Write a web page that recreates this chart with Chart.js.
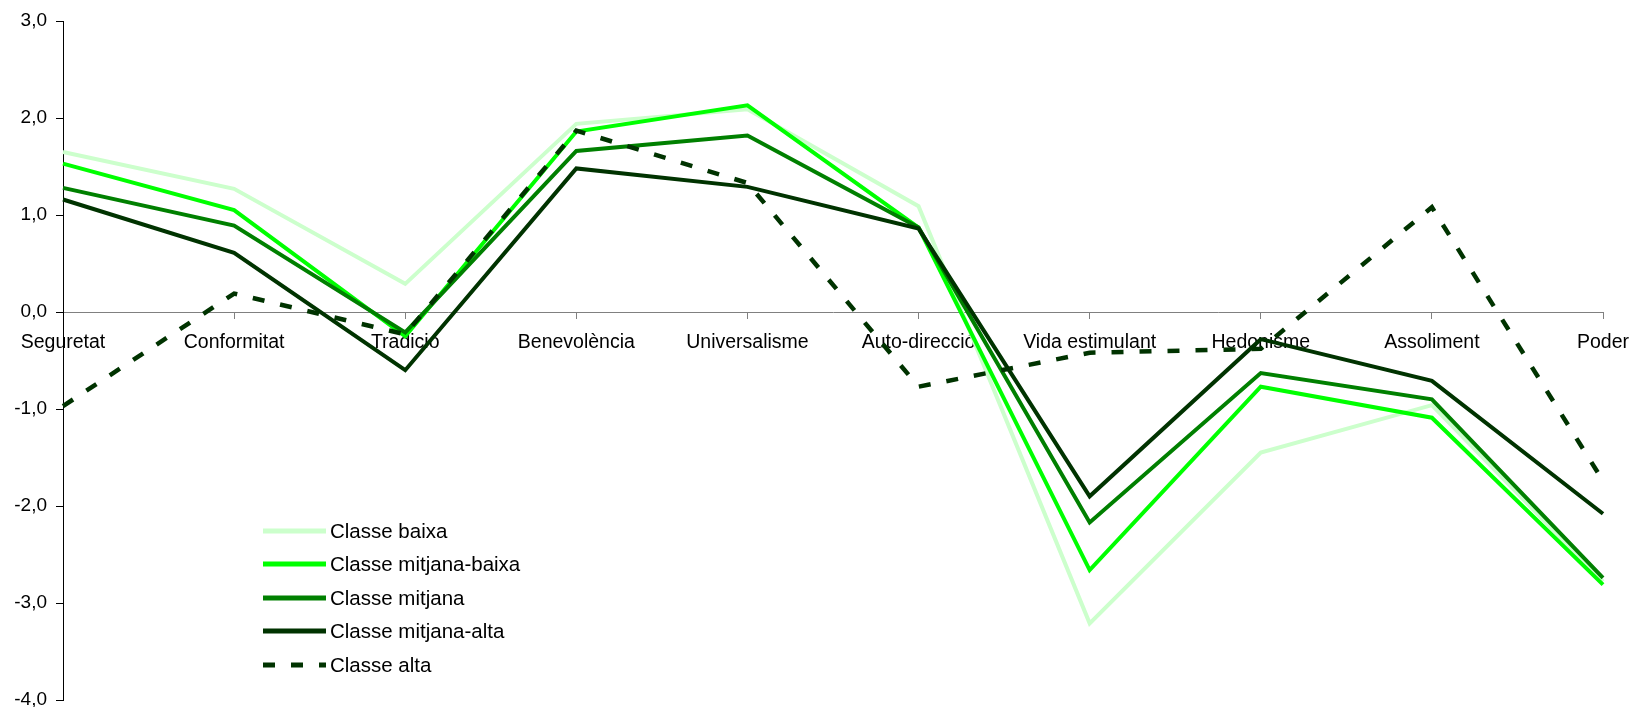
<!DOCTYPE html>
<html>
<head>
<meta charset="utf-8">
<script src="https://cdn.jsdelivr.net/npm/chart.js@4/dist/chart.umd.min.js"></script>
<style>
    body { margin: 0; background: #fff; }
    #wrap { position: relative; width: 1634px; height: 707px; }
    #legend { position: absolute; left: 263px; top: 514px; font-family: "Liberation Sans", Arial, sans-serif; font-size: 20.5px; color: #000; }
    #legend .row { display: flex; align-items: center; height: 33.5px; }
    #legend svg { width: 63px; height: 8px; margin-right: 4px; }
</style>
</head>
<body>
<div id="wrap">
    <canvas id="chart"></canvas>
    <div id="legend"></div>
</div>
<script>
// categories
const categories = ['Seguretat', 'Conformitat', 'Tradició', 'Benevolència', 'Universalisme',
    'Auto-direcció', 'Vida estimulant', 'Hedonisme', 'Assoliment', 'Poder'];

// series
const classeBaixa        = [1.65, 1.27, 0.29, 1.94, 2.09, 1.09, -3.21, -1.45, -0.96, -2.78];
const classeMitjanaBaixa = [1.53, 1.05, -0.25, 1.86, 2.13, 0.87, -2.66, -0.77, -1.09, -2.81];
const classeMitjana      = [1.28, 0.89, -0.21, 1.66, 1.82, 0.87, -2.17, -0.63, -0.90, -2.74];
const classeMitjanaAlta  = [1.16, 0.61, -0.60, 1.48, 1.29, 0.86, -1.90, -0.28, -0.71, -2.08];
const classeAlta         = [-0.97, 0.19, -0.23, 1.87, 1.33, -0.77, -0.42, -0.38, 1.08, -1.74];

const seriesNames = ['Classe baixa', 'Classe mitjana-baixa', 'Classe mitjana', 'Classe mitjana-alta', 'Classe alta'];

// y axis range
const yMin = -4;
const yMax = 3;

const family = '"Liberation Sans", Arial, sans-serif';

function makeSet(label, data, color, order, dash) {
    return {
        label: label,
        data: data,
        borderColor: color,
        backgroundColor: color,
        borderWidth: dash ? 4.5 : 4,
        borderDash: dash || [],
        pointRadius: 0,
        tension: 0,
        fill: false,
        order: order
    };
}

const datasets = [
    makeSet(seriesNames[0], classeBaixa, '#ccffcc', 5),
    makeSet(seriesNames[1], classeMitjanaBaixa, '#00ff00', 4),
    makeSet(seriesNames[2], classeMitjana, '#008000', 3),
    makeSet(seriesNames[3], classeMitjanaAlta, '#003300', 2),
    makeSet(seriesNames[4], classeAlta, '#003300', 1, [12, 16])
];

const ctx = document.getElementById('chart');
const chart = new Chart(ctx, {
    type: 'line',
    data: { labels: categories, datasets: datasets },
    options: {
        responsive: true,
        maintainAspectRatio: false,
        animation: false,
        layout: { padding: { top: 21, bottom: 7, left: 0, right: 31 } },
        plugins: {
            legend: { display: false },
            tooltip: { enabled: false }
        },
        scales: {
            x: {
                position: { y: 0 },
                offset: false,
                afterFit: function (scale) {
                    scale.paddingLeft = 0; scale.paddingRight = 0;
                    scale.paddingTop = 0; scale.paddingBottom = 0;
                },
                grid: { drawOnChartArea: false, drawTicks: true, tickLength: 6, color: '#808080' },
                border: { color: '#808080', width: 1 },
                ticks: { color: '#000', font: { family: family, size: 19.5 }, autoSkip: false, maxRotation: 0, padding: 13 }
            },
            y: {
                min: yMin,
                max: yMax,
                afterFit: function (scale) {
                    scale.width = 63;
                    scale.paddingTop = 0; scale.paddingBottom = 0;
                },
                grid: { drawOnChartArea: false, drawTicks: true, tickLength: 7, color: '#000' },
                border: { color: '#000', width: 1 },
                ticks: {
                    stepSize: 1,
                    color: '#000',
                    font: { family: family, size: 19 },
                    padding: 9,
                    callback: function (v) { return v.toFixed(1).replace('.', ','); }
                }
            }
        }
    }
});

// legend (html)
const $legend = document.getElementById('legend');
datasets.forEach(ds => {
    const row = document.createElement('div');
    row.className = 'row';
    const dash = ds.borderDash.length ? `stroke-dasharray="${ds.borderDash.join(' ')}"` : '';
    row.innerHTML = `<svg viewBox="0 0 63 8"><line x1="0" y1="4" x2="63" y2="4" stroke="${ds.borderColor}" stroke-width="5" ${dash}/></svg><span>${ds.label}</span>`;
    $legend.appendChild(row);
});
</script>
</body>
</html>
